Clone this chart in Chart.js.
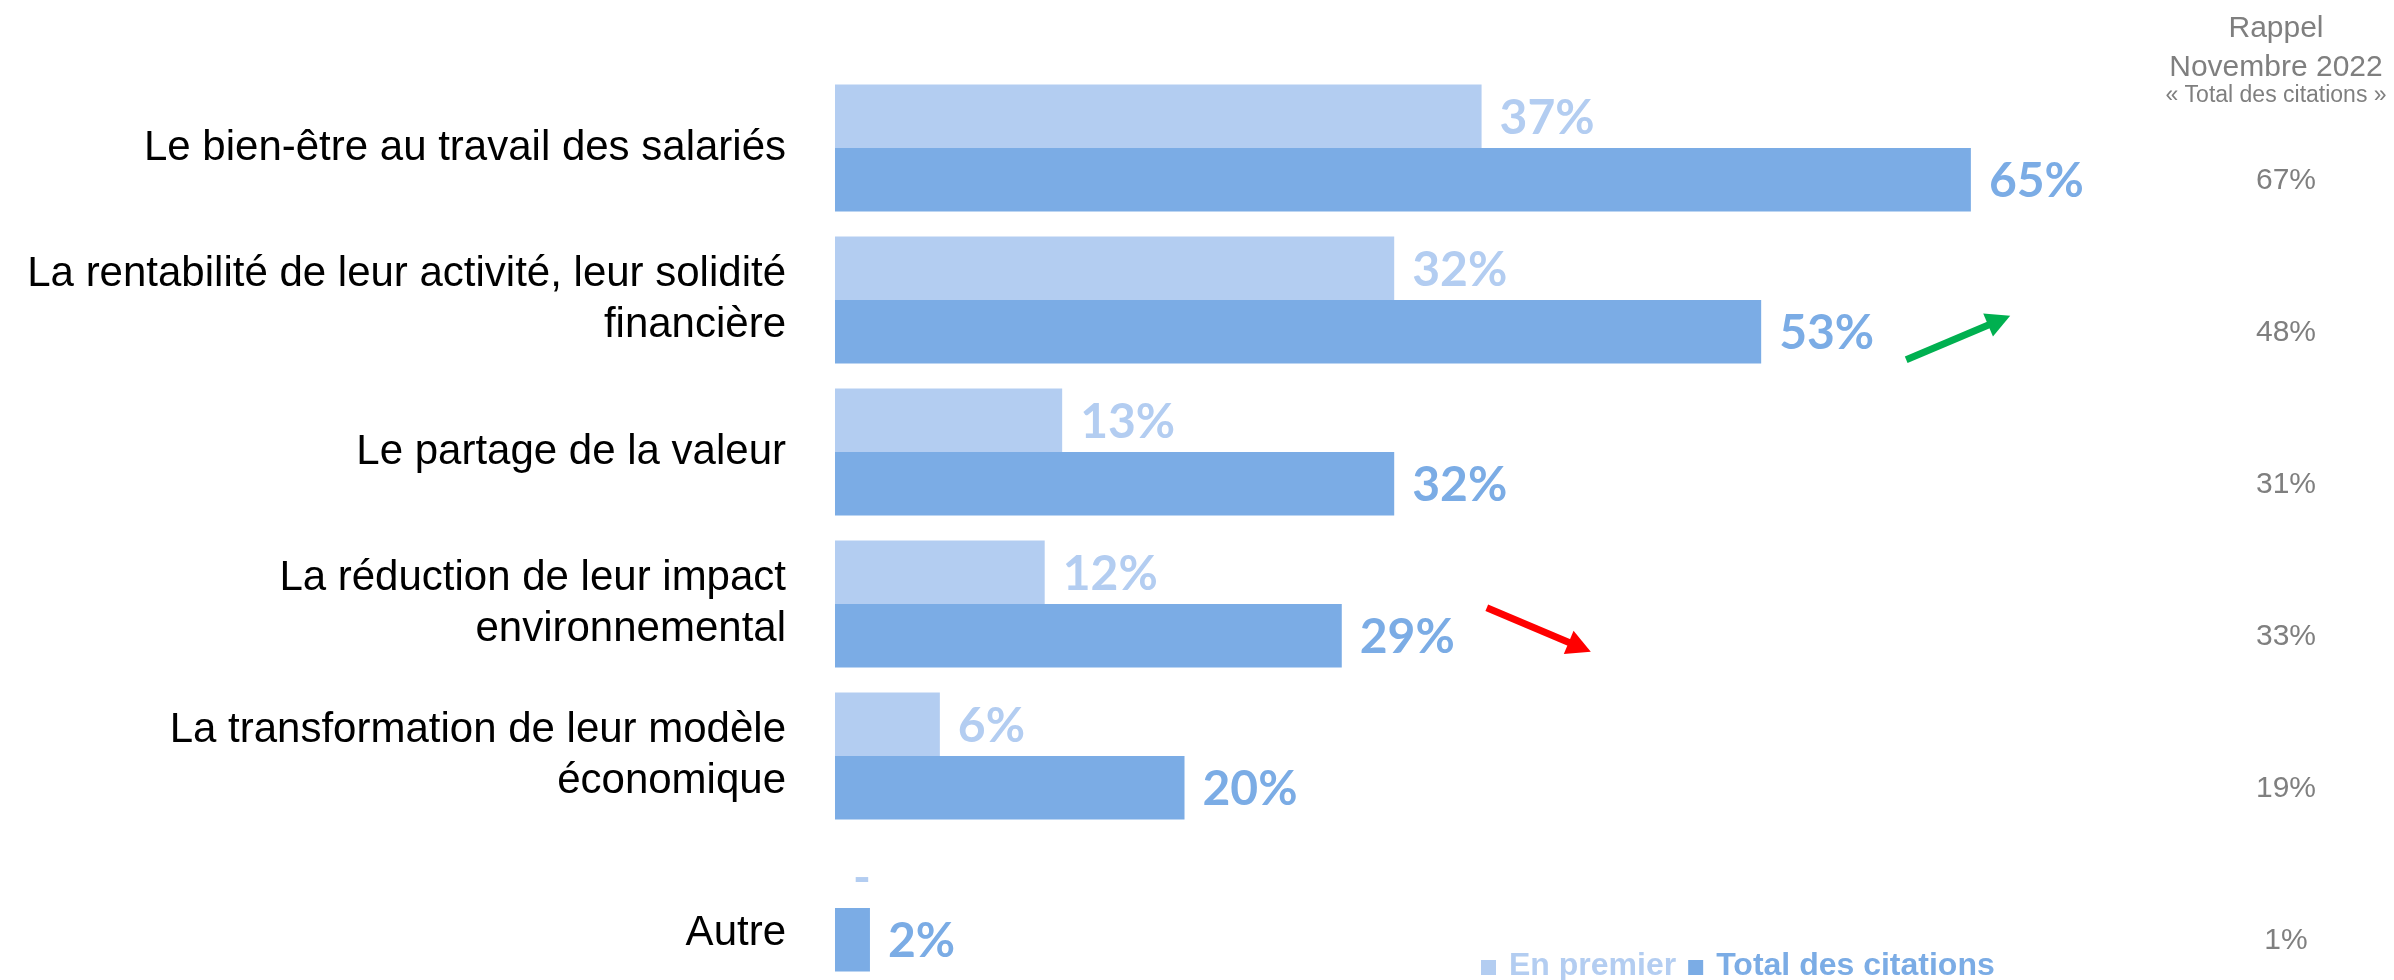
<!DOCTYPE html>
<html><head><meta charset="utf-8">
<script src="https://cdn.jsdelivr.net/npm/chart.js@4.4.1/dist/chart.umd.min.js"></script>
<style>html,body{margin:0;padding:0;background:#fff;overflow:hidden}#wrap{width:2394px;height:980px;position:relative;overflow:hidden}</style>
</head><body><div id="wrap"><canvas id="c" width="2394" height="986"></canvas></div>
<script>
const categories = [
  'Le bien-être au travail des salariés',
  ['La rentabilité de leur activité, leur solidité', 'financière'],
  'Le partage de la valeur',
  ['La réduction de leur impact', 'environnemental'],
  ['La transformation de leur modèle', 'économique'],
  ['', 'Autre']
];
const seriesNames = ['En premier', 'Total des citations'];
const enPremier = [37, 32, 13, 12, 6, 0];
const totalCitations = [65, 53, 32, 29, 20, 2];
const rappelHeader = ['Rappel', 'Novembre 2022', '« Total des citations »'];
const rappel2022 = [67, 48, 31, 33, 19, 1];
const trend = [null, 'up', null, 'down', null, null];

const LIGHT = '#B3CDF1';
const DARK = '#7BACE5';
const GREY = '#7F7F7F';

function drawArrow(ctx, x1, y1, x2, y2, color) {
  const a = Math.atan2(y2 - y1, x2 - x1);
  const c = Math.cos(a), s = Math.sin(a);
  const hl = 24, hw = 25, sw = 7;
  const bx = x2 - hl * c, by = y2 - hl * s;
  ctx.save();
  ctx.strokeStyle = color; ctx.fillStyle = color;
  ctx.lineWidth = sw; ctx.lineCap = 'butt';
  ctx.beginPath(); ctx.moveTo(x1, y1); ctx.lineTo(bx + c, by + s); ctx.stroke();
  ctx.beginPath();
  ctx.moveTo(x2, y2);
  ctx.lineTo(bx - s * hw / 2, by + c * hw / 2);
  ctx.lineTo(bx + s * hw / 2, by - c * hw / 2);
  ctx.closePath(); ctx.fill();
  ctx.restore();
}

const annot = {
  id: 'annot',
  afterDatasetsDraw(chart) {
    const ctx = chart.ctx;
    const colors = [LIGHT, DARK];
    const labelEnds = [];
    ctx.save();
    ctx.font = 'bold 48px Lato';
    ctx.textBaseline = 'middle';
    ctx.textAlign = 'left';
    chart.data.datasets.forEach((ds, di) => {
      const meta = chart.getDatasetMeta(di);
      meta.data.forEach((bar, i) => {
        const v = ds.data[i];
        const txt = v === 0 ? '-' : v + '%';
        ctx.fillStyle = colors[di];
        const x = bar.x + 18;
        ctx.fillText(txt, x, bar.y + 2);
        if (di === 1) labelEnds[i] = { x: x + ctx.measureText(txt).width, y: bar.y };
      });
    });
    // Rappel column
    const cx = 2276;
    ctx.fillStyle = GREY;
    ctx.textAlign = 'center';
    ctx.font = '30px "Liberation Sans"';
    ctx.fillText(rappelHeader[0], cx, 29);
    ctx.fillText(rappelHeader[1], cx, 68);
    ctx.font = '23px "Liberation Sans"';
    ctx.fillText(rappelHeader[2], cx, 96);
    ctx.font = '30px "Liberation Sans"';
    rappel2022.forEach((v, i) => {
      ctx.fillText(v + '%', 2286, labelEnds[i].y + 1);
    });
    // trend arrows
    trend.forEach((t, i) => {
      if (!t) return;
      const sgn = t === 'up' ? 1 : -1;
      const x1 = labelEnds[i].x + 32, yc = labelEnds[i].y;
      drawArrow(ctx, x1, yc + sgn * 28, x1 + 104, yc - sgn * 16, t === 'up' ? '#00B050' : '#FF0000');
    });
    // legend
    ctx.font = 'bold 32px "Liberation Sans"';
    ctx.textAlign = 'left';
    ctx.textBaseline = 'alphabetic';
    let lx = 1481;
    const base = 975;
    seriesNames.forEach((n, i) => {
      ctx.fillStyle = colors[i];
      ctx.fillRect(lx, base - 15, 15, 15);
      lx += 28;
      ctx.fillText(n, lx, base);
      lx += ctx.measureText(n).width + 12;
    });
    ctx.restore();
  }
};

new Chart(document.getElementById('c'), {
  type: 'bar',
  data: {
    labels: categories,
    datasets: [
      { label: seriesNames[0], data: enPremier, backgroundColor: LIGHT, borderWidth: 0,
        barPercentage: 1, categoryPercentage: 0.835 },
      { label: seriesNames[1], data: totalCitations, backgroundColor: DARK, borderWidth: 0,
        barPercentage: 1, categoryPercentage: 0.835 }
    ]
  },
  options: {
    indexAxis: 'y',
    responsive: false,
    animation: false,
    devicePixelRatio: 1,
    layout: { padding: { left: 0, right: 161, top: 72, bottom: 2 } },
    plugins: { legend: { display: false }, tooltip: { enabled: false } },
    scales: {
      x: { display: false, min: 0, max: 80 },
      y: {
        grid: { display: false, drawTicks: false },
        border: { display: false },
        ticks: { color: '#000', padding: 49,
          font: { family: '"Liberation Sans", Arial', size: 42, lineHeight: 1.22 } },
        afterFit(s) { s.width = 835; s.paddingTop = 0; s.paddingBottom = 0; }
      }
    }
  },
  plugins: [annot]
});
</script>
</body></html>
